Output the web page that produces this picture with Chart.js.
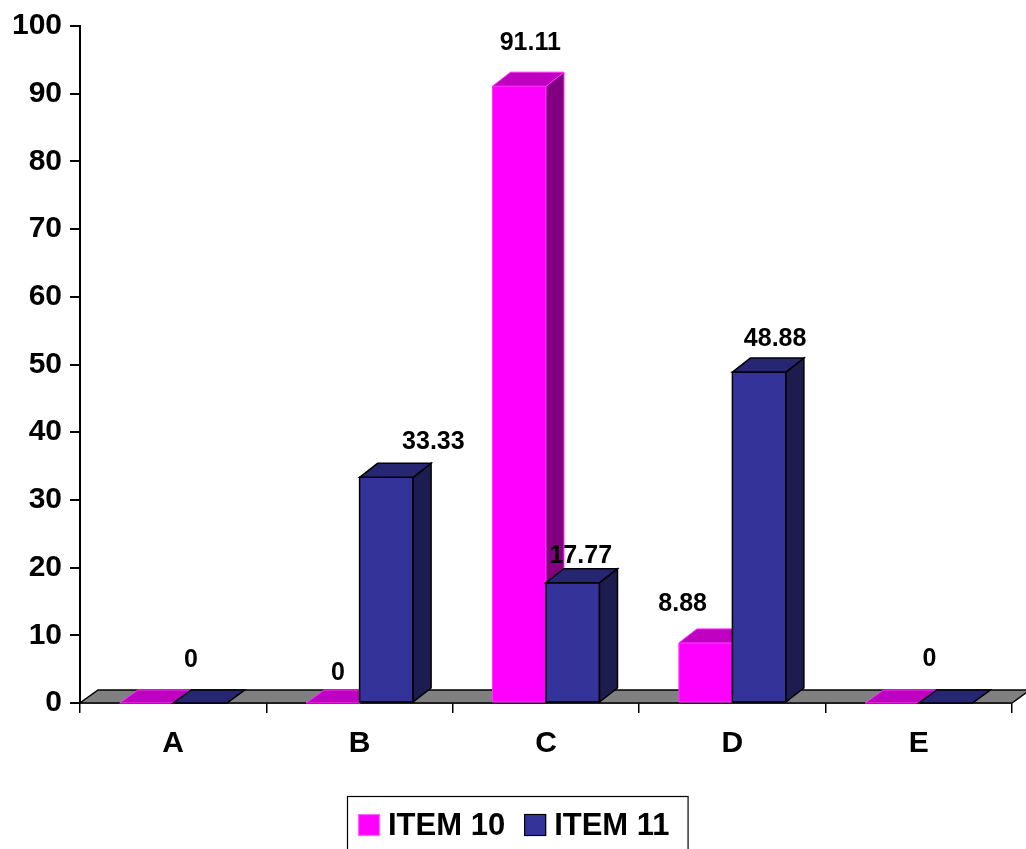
<!DOCTYPE html>
<html>
<head>
<meta charset="utf-8">
<script src="https://cdn.jsdelivr.net/npm/chart.js@4.4.1/dist/chart.umd.min.js"></script>
<style>
  html, body { margin: 0; padding: 0; background: #ffffff; }
  #wrap { width: 1026px; height: 849px; overflow: hidden; }
  canvas { display: block; }
</style>
</head>
<body>
<div id="wrap"><canvas id="c" width="1026" height="849"></canvas></div>
<script>
// ---- data ----
const categories = ['A', 'B', 'C', 'D', 'E'];
const item10 = [0, 0, 91.11, 8.88, 0];
const item11 = [0, 33.33, 17.77, 48.88, 0];
const seriesNames = ['ITEM 10', 'ITEM 11'];
const yMin = 0, yMax = 100, yStep = 10;

// ---- styles ----
const FONT = '"Liberation Sans", Arial, Helvetica, sans-serif';
const faceColors = [
  { front: '#FF00FF', top: '#C000C0', side: '#800080', stroke: '#FF33FF', strokeW: 1 },
  { front: '#333399', top: '#262673', side: '#1C1C4E', stroke: '#000000', strokeW: 1.5 }
];
const DEPTH_X = 18, DEPTH_Y = 14;
// label nudges relative to the top-front-centre of each bar (null = no label drawn)
const labelNudge = [
  [null, [5, -30], [11, -43], [-23, -39], null],
  [[-9, -43], [47, -35], [8, -27], [16, -33], [-16, -44]]
];

Chart.defaults.font.family = FONT;

function poly(ctx, pts, fill, stroke, lw) {
  ctx.beginPath();
  ctx.moveTo(pts[0][0], pts[0][1]);
  for (let k = 1; k < pts.length; k++) ctx.lineTo(pts[k][0], pts[k][1]);
  ctx.closePath();
  ctx.fillStyle = fill;
  ctx.fill();
  if (stroke) { ctx.strokeStyle = stroke; ctx.lineWidth = lw; ctx.lineJoin = 'miter'; ctx.stroke(); }
}

const threeD = {
  id: 'threeD',
  beforeDatasetsDraw(chart) {
    const ctx = chart.ctx;
    const a = chart.chartArea;
    const y0 = chart.scales.y.getPixelForValue(0);
    ctx.save();
    poly(ctx, [[a.left, y0], [a.right, y0], [a.right + DEPTH_X, y0 - 13], [a.left + DEPTH_X, y0 - 13]],
      '#808080', '#000000', 1.5);
    ctx.restore();
  },
  afterDatasetsDraw(chart) {
    const ctx = chart.ctx;
    ctx.save();
    const n = categories.length;
    for (let i = 0; i < n; i++) {
      for (let d = 0; d < chart.data.datasets.length; d++) {
        const el = chart.getDatasetMeta(d).data[i];
        const p = el.getProps(['x', 'y', 'base', 'width'], true);
        const L = p.x - p.width / 2, R = p.x + p.width / 2;
        const T = Math.min(p.y, p.base), B = p.base;
        const c = faceColors[d];
        const dy = (B - T > 0.5) ? DEPTH_Y : 13;
        // front
        poly(ctx, [[L, T], [R, T], [R, B], [L, B]], c.front, B - T > 0.5 ? c.stroke : null, c.strokeW);
        // side
        poly(ctx, [[R, T], [R + DEPTH_X, T - dy], [R + DEPTH_X, B - dy], [R, B]], c.side, c.stroke, c.strokeW);
        // top
        poly(ctx, [[L, T], [L + DEPTH_X, T - dy], [R + DEPTH_X, T - dy], [R, T]], c.top, c.stroke, c.strokeW);
      }
    }
    // data labels
    ctx.fillStyle = '#000000';
    ctx.font = 'bold 25px ' + FONT;
    ctx.textAlign = 'center';
    ctx.textBaseline = 'middle';
    for (let d = 0; d < chart.data.datasets.length; d++) {
      const vals = chart.data.datasets[d].data;
      for (let i = 0; i < n; i++) {
        const nudge = labelNudge[d][i];
        if (!nudge) continue;
        const p = chart.getDatasetMeta(d).data[i].getProps(['x', 'y'], true);
        ctx.fillText(String(vals[i]), p.x + nudge[0], p.y + nudge[1]);
      }
    }
    ctx.restore();
  },
  afterDraw(chart) {
    // framed legend below the chart
    const ctx = chart.ctx;
    ctx.save();
    ctx.font = 'bold 31px ' + FONT;
    ctx.textBaseline = 'middle';
    ctx.textAlign = 'left';
    const sq = 22, gapSq = 8, gapItem = 19, padL = 11, padR = 18;
    const widths = seriesNames.map(s => ctx.measureText(s).width);
    let total = padL + padR + gapItem * (seriesNames.length - 1);
    widths.forEach(w => total += sq + gapSq + w);
    const boxL = Math.round(chart.width / 2 + 4 - total / 2);
    const boxT = 796.5;
    ctx.strokeStyle = '#000000';
    ctx.lineWidth = 1.2;
    ctx.strokeRect(boxL + 0.5, boxT, total, 80);
    let x = boxL + padL;
    const cy = 825;
    seriesNames.forEach((s, k) => {
      const c = faceColors[k];
      ctx.fillStyle = c.front;
      ctx.fillRect(x, cy - 11, sq, sq);
      ctx.strokeStyle = k === 0 ? '#FF66FF' : '#000000';
      ctx.lineWidth = 1.2;
      ctx.strokeRect(x + 0.5, cy - 10.5, sq - 1, sq - 1);
      x += sq + gapSq;
      ctx.fillStyle = '#000000';
      ctx.fillText(s, x, cy + 1);
      x += widths[k] + gapItem;
    });
    ctx.restore();
  }
};

new Chart(document.getElementById('c'), {
  type: 'bar',
  data: {
    labels: categories,
    datasets: [
      { label: seriesNames[0], data: item10, backgroundColor: faceColors[0].front, borderWidth: 0 },
      { label: seriesNames[1], data: item11, backgroundColor: faceColors[1].front, borderWidth: 0 }
    ]
  },
  options: {
    responsive: false,
    animation: false,
    devicePixelRatio: 1,
    layout: { padding: { top: 23, right: 14, bottom: 86, left: 0 } },
    datasets: { bar: { barPercentage: 1, categoryPercentage: 0.574 } },
    plugins: { legend: { display: false }, tooltip: { enabled: false } },
    scales: {
      x: {
        offset: true,
        grid: { display: true, drawOnChartArea: false, drawTicks: true, tickLength: 10, color: '#000000', lineWidth: 1.5, offset: true },
        border: { display: true, color: '#000000', width: 1.5 },
        ticks: { color: '#000000', font: { size: 30, weight: 'bold', family: FONT }, padding: 13, maxRotation: 0 },
        afterFit(scale) { scale.height = 60; }
      },
      y: {
        min: yMin, max: yMax,
        grid: { display: true, drawOnChartArea: false, drawTicks: true, tickLength: 10, color: '#000000', lineWidth: 2 },
        border: { display: true, color: '#000000', width: 2 },
        ticks: { stepSize: yStep, color: '#000000', font: { size: 30, weight: 'bold', family: FONT }, padding: 8 },
        afterFit(scale) { scale.width = 80; }
      }
    }
  },
  plugins: [threeD]
});
</script>
</body>
</html>
